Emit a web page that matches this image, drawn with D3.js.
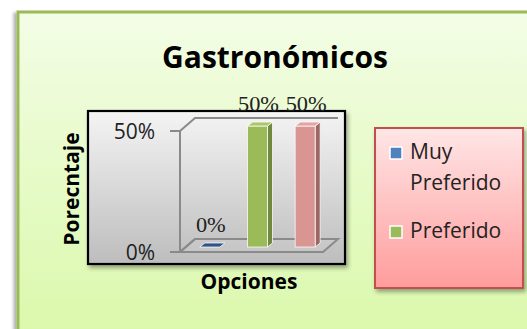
<!DOCTYPE html>
<html><head><meta charset="utf-8">
<script src="https://cdn.jsdelivr.net/npm/d3@7"></script>
<style>body{margin:0;background:#fff}svg{display:block}</style>
</head><body>
<script>
const title = "Gastronómicos";
const categories = ["Muy Preferido", "Preferido", "Poco Preferido"];
const values = [0, 0.5, 0.5];
const yTicks = [0, 0.5];
const legendItems = ["Muy Preferido", "Preferido"];
const yAxisTitle = "Porecntaje";
const xAxisTitle = "Opciones";
const frontColors = ["#4f81bd", "#9bbb59", "#d99592"];
const sideColors = ["#385d8a", "#71893f", "#9c6663"];
const topColors = ["#2f5289", "#a9c86a", "#e3a5a2"];

const W = 527, H = 329;
const svg = d3.select("body").append("svg").attr("width", W).attr("height", H);
const defs = svg.append("defs");
function grad(id, c1, c2) {
  const g = defs.append("linearGradient").attr("id", id).attr("x1", 0).attr("y1", 0).attr("x2", 0).attr("y2", 1);
  g.append("stop").attr("offset", "0%").attr("stop-color", c1);
  g.append("stop").attr("offset", "100%").attr("stop-color", c2);
}
grad("gOuter", "#f3fde6", "#d9f8a8");
grad("gPlot", "#f4f4f4", "#bdbdbd");
grad("gLegend", "#ffe6e6", "#ff9c9c");
const sh = defs.append("filter").attr("id", "sh").attr("x", "-10%").attr("y", "-10%").attr("width", "130%").attr("height", "130%");
sh.append("feDropShadow").attr("dx", 2).attr("dy", 3).attr("stdDeviation", 2).attr("flood-color", "#000").attr("flood-opacity", 0.35);
const sh2 = defs.append("filter").attr("id", "sh2").attr("x", "-5%").attr("y", "-5%").attr("width", "120%").attr("height", "120%");
sh2.append("feDropShadow").attr("dx", -3).attr("dy", 2).attr("stdDeviation", 1.5).attr("flood-color", "#000").attr("flood-opacity", 0.3);

// outer frame
svg.append("rect").attr("x", 18).attr("y", 12).attr("width", 530).attr("height", 340)
  .attr("fill", "url(#gOuter)").attr("stroke", "#9bbb59").attr("stroke-width", 3).attr("filter", "url(#sh2)");

svg.append("text").attr("x", 275).attr("y", 68).attr("text-anchor", "middle")
  .attr("font-family", "Open Sans").attr("font-weight", "bold").attr("font-size", 30).attr("fill", "#000")
  .text(title);

// plot area
svg.append("rect").attr("x", 88).attr("y", 111).attr("width", 257).attr("height", 153)
  .attr("fill", "url(#gPlot)").attr("stroke", "#000").attr("stroke-width", 2.2).attr("filter", "url(#sh)");

const y = d3.scaleLinear().domain([0, 0.5]).range([252, 131]);
const x = d3.scaleBand().domain(categories).range([180, 323]).paddingInner(0.58).paddingOuter(0.29);
const D = {dx: 15, dy: -13};
const B = {dx: 6, dy: -5};
const BD = {dx: 5, dy: -4};
const axisCol = "#8a8a8a";
const g3 = svg.append("g").attr("fill", "none").attr("stroke", axisCol).attr("stroke-width", 2);
const xr = x.range();
// floor
g3.append("path").attr("d", `M${xr[0]},${y(0)} L${xr[1]},${y(0)} L${xr[1] + D.dx},${y(0) + D.dy} L${xr[0] + D.dx},${y(0) + D.dy} Z`)
  .attr("fill", "rgba(255,255,255,0.08)");
// back gridlines + left wall edges
yTicks.forEach(t => {
  g3.append("path").attr("d", `M${xr[0]},${y(t)} L${xr[0] + D.dx},${y(t) + D.dy} L${xr[1] + D.dx},${y(t) + D.dy}`);
  g3.append("line").attr("x1", xr[0] - 10).attr("x2", xr[0]).attr("y1", y(t)).attr("y2", y(t));
});
g3.append("line").attr("x1", xr[0]).attr("x2", xr[0]).attr("y1", y(0)).attr("y2", y(0.5));

// tick labels
svg.append("g").selectAll("text").data(yTicks).join("text")
  .attr("x", 155).attr("y", d => y(d) + 8).attr("text-anchor", "end")
  .attr("font-family", "Open Sans").attr("font-size", 21).attr("fill", "#222")
  .text(d => d3.format(".0%")(d));

// bars
const bars = svg.append("g");
categories.forEach((c, i) => {
  const v = values[i];
  const x0 = x(c) + B.dx, x1 = x0 + x.bandwidth();
  const yt = y(v) + B.dy, yb = y(0) + B.dy;
  const gb = bars.append("g").attr("stroke", "rgba(255,255,255,0.75)").attr("stroke-width", 1);
  if (v > 0) {
    gb.append("path").attr("d", `M${x1},${yt} L${x1 + BD.dx},${yt + BD.dy} L${x1 + BD.dx},${yb + BD.dy} L${x1},${yb} Z`).attr("fill", sideColors[i]);
    gb.append("rect").attr("x", x0).attr("y", yt).attr("width", x1 - x0).attr("height", yb - yt).attr("fill", frontColors[i]);
  }
  gb.append("path").attr("d", `M${x0},${yt} L${x1},${yt} L${x1 + BD.dx},${yt + BD.dy} L${x0 + BD.dx},${yt + BD.dy} Z`)
    .attr("fill", topColors[i]);
  const cx = (x0 + x1) / 2 + 1;
  svg.append("text").attr("x", cx).attr("y", yt - 15).attr("text-anchor", "middle")
    .attr("font-family", "Liberation Serif").attr("font-size", 20).attr("fill", "#222")
    .attr("transform", `translate(${cx},0) scale(1.12,1) translate(${-cx},0)`)
    .text(d3.format(".0%")(v));
});

// axis titles
svg.append("text").attr("transform", "translate(79,189) rotate(-90)").attr("text-anchor", "middle")
  .attr("font-family", "Open Sans").attr("font-weight", "bold").attr("font-size", 21).attr("fill", "#000")
  .text(yAxisTitle);
svg.append("text").attr("x", 249).attr("y", 289).attr("text-anchor", "middle")
  .attr("font-family", "Open Sans").attr("font-weight", "bold").attr("font-size", 21).attr("fill", "#000")
  .text(xAxisTitle);

// legend
svg.append("rect").attr("x", 375).attr("y", 128).attr("width", 148).attr("height", 160)
  .attr("fill", "url(#gLegend)").attr("stroke", "#c0504d").attr("stroke-width", 2).attr("filter", "url(#sh)");
const lg = svg.append("g");
let ly = 159;
legendItems.forEach((name, i) => {
  lg.append("rect").attr("x", 390).attr("y", ly - 12).attr("width", 12).attr("height", 12)
    .attr("fill", frontColors[i]).attr("stroke", "#fff").attr("stroke-width", 1.5);
  const t = lg.append("text").attr("x", 410).attr("y", ly)
    .attr("font-family", "Open Sans").attr("font-size", 21).attr("fill", "#222");
  const words = name.split(" ");
  let line = [], tspan = t.append("tspan").attr("x", 410).attr("y", ly);
  words.forEach(w => {
    line.push(w);
    tspan.text(line.join(" "));
    if (tspan.node().getComputedTextLength() > 105 && line.length > 1) {
      line.pop(); tspan.text(line.join(" "));
      line = [w]; ly += 31;
      tspan = t.append("tspan").attr("x", 410).attr("y", ly).text(w);
    }
  });
  ly += 48;
});
</script>
</body></html>
